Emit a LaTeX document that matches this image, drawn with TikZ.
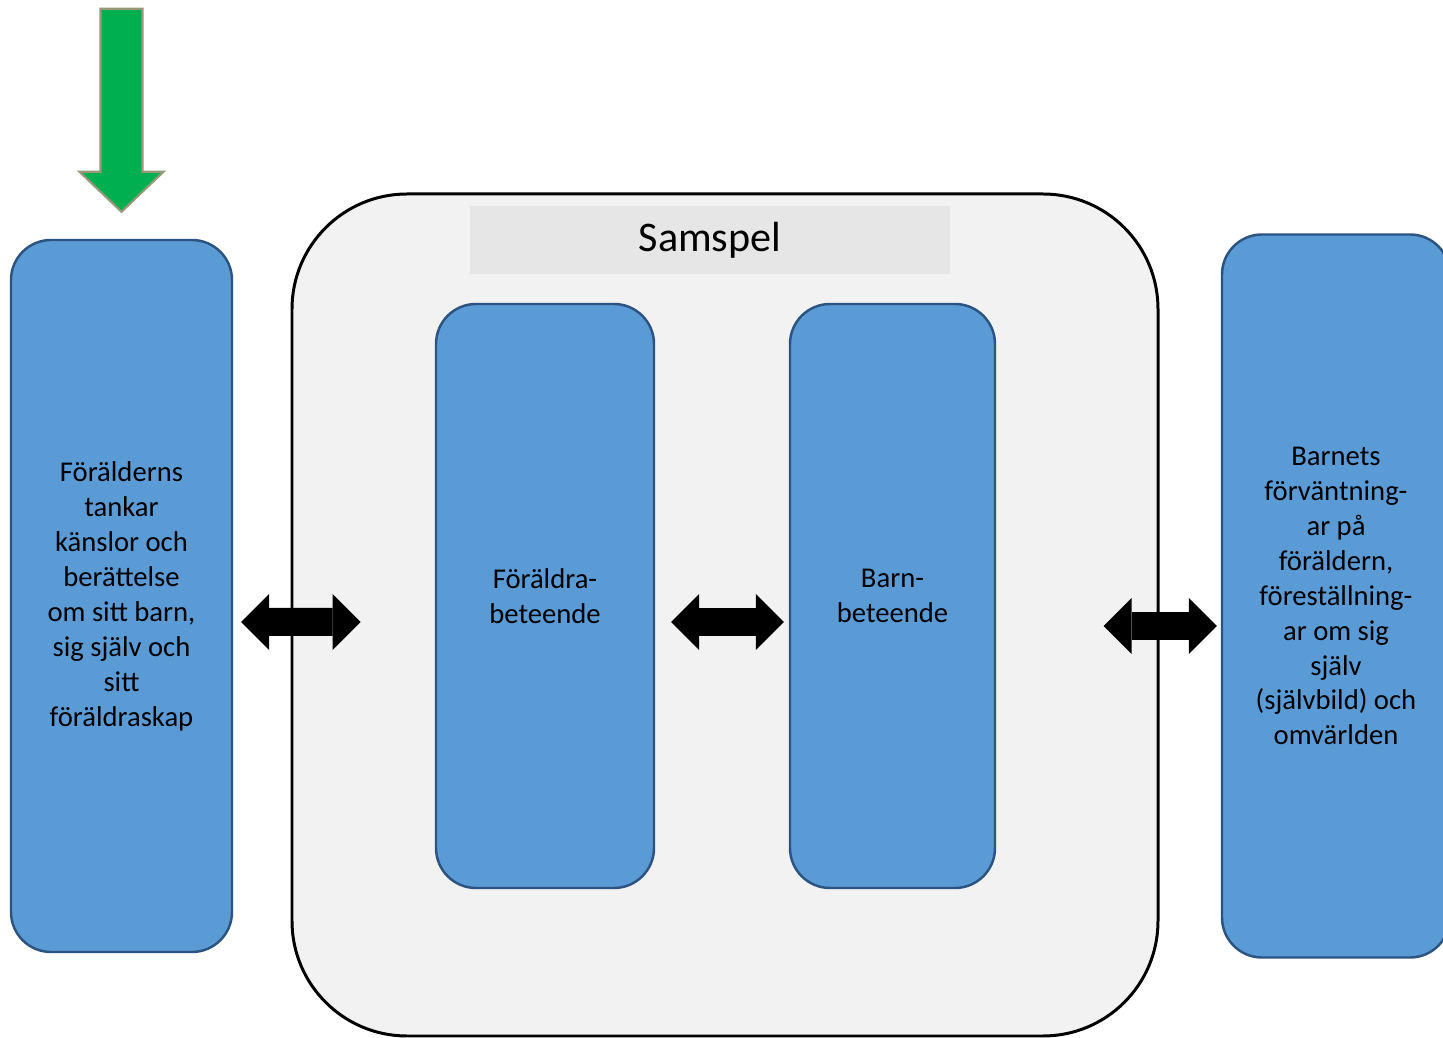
\documentclass[tikz,border=0pt]{standalone}
\usepackage{fontspec}
\setmainfont{Carlito}
\usepackage{tikz}
\usetikzlibrary{shapes,backgrounds,fit,arrows.meta,positioning}
\definecolor{boxblue}{RGB}{91,155,213}
\definecolor{boxedge}{RGB}{44,84,130}
\definecolor{panelgray}{RGB}{242,242,242}
\definecolor{bargray}{RGB}{230,230,230}
\definecolor{arrowgreen}{RGB}{0,176,80}
\definecolor{arrowedge}{RGB}{150,152,120}
\tikzstyle{bluebox} = [draw=boxedge, line width=1.4pt, fill=boxblue, text centered, align=center, rounded corners=0.8cm, font=\fontsize{16.3}{19.9}\selectfont]
\tikzstyle{panel} = [draw=black, line width=1.7pt, fill=panelgray, rounded corners=2.3cm, minimum width=17.32cm, minimum height=16.84cm]
\tikzstyle{titlebar} = [fill=bargray, minimum width=9.6cm, minimum height=1.36cm, font=\fontsize{24}{29}\selectfont]
\tikzstyle{blockarrow} = [draw, line width=0.56cm, {Triangle[length=0.56cm,width=1.12cm,line width=0pt]}-{Triangle[length=0.56cm,width=1.12cm,line width=0pt]}]
\tikzstyle{greenarrow} = [draw=arrowedge, line width=1.2pt, fill=arrowgreen, line join=miter]
\newcommand{\bluebox}[4]{node (b#1) [bluebox, minimum width=#2, minimum height=#3] {#4}}

\begin{document}
\begin{tikzpicture}
\useasboundingbox (-2.43,-8.84) rectangle (26.43,11.92);
\path (0,0) \bluebox{1}{4.42cm}{14.24cm}{Förälderns\\tankar\\känslor och\\berättelse\\om sitt barn,\\sig själv och\\sitt\\föräldraskap};
\path (b1)+(12.07,-0.38) node (panel) [panel] {};
\path (b1)+(11.77,7.12) node (title) [titlebar] {Samspel};
\path (b1)+(8.47,0) \bluebox{2}{4.36cm}{11.68cm}{Föräldra-\\beteende};
\path (b2)+(6.95,0) \bluebox{3}{4.1cm}{11.68cm}{Barn-\\beteende};
\path (b1)+(24.29,0) \bluebox{4}{4.56cm}{14.46cm}{Barnets\\förväntning-\\ar på\\föräldern,\\föreställning-\\ar om sig\\själv\\(självbild) och\\omvärlden};

% block arrows between the boxes
\draw[blockarrow] ([shift={(0.16,-0.52)}]b1.east) -- ([shift={(1.4,-0.14)}]panel.west);
\draw[blockarrow] ([shift={(0.32,-0.52)}]b2.east) -- ([shift={(-0.1,-0.52)}]b3.west);
\draw[blockarrow] ([shift={(-1.12,-0.22)}]panel.east) -- ([shift={(-0.08,-0.6)}]b4.west);

% green arrow into the left box
\coordinate (tip) at ([yshift=0.54cm]b1.north);
\draw[greenarrow] (tip) -- ++(-0.84,0.8) -- ++(0.42,0) -- ++(0,3.26) -- ++(0.84,0) -- ++(0,-3.26) -- ++(0.42,0) -- cycle;
\end{tikzpicture}
\end{document}
